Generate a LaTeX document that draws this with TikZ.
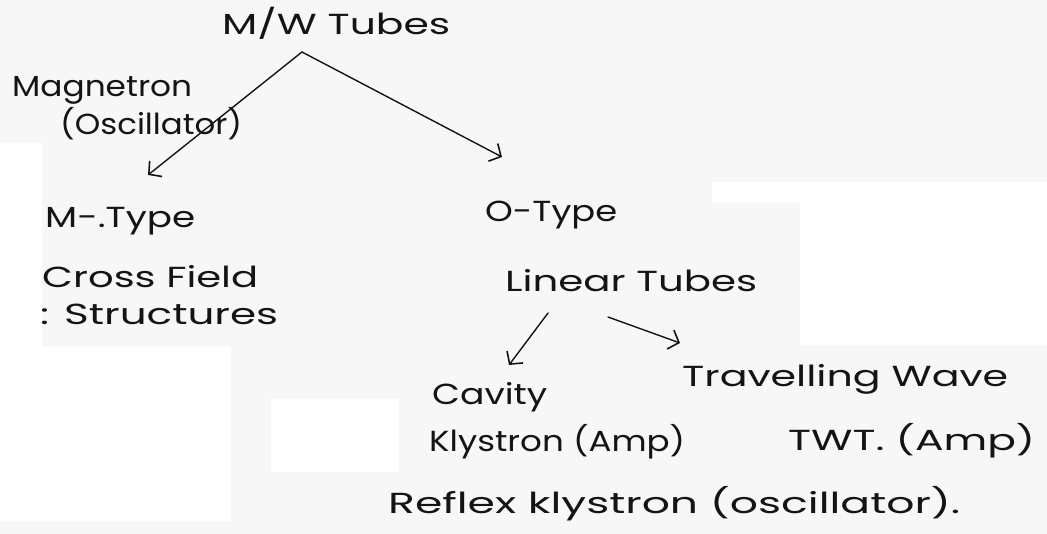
\documentclass[tikz,border=0pt]{standalone}
\usepackage{fontspec}
\setmainfont{Poppins}
\usetikzlibrary{arrows.meta,calc}
\definecolor{paper}{gray}{0.97}
\definecolor{ink}{gray}{0.08}
% set a label to a given width, keeping its natural height
\newcommand{\hw}[2]{\resizebox{#1pt}{\height}{#2}}

\begin{document}
\begin{tikzpicture}[x=1pt,y=-1pt,
  lbl/.style={anchor=base west,inner sep=0pt,text=ink,font=\fontsize{29}{34}\selectfont},
  arr/.style={draw=ink,line width=1.4pt,line cap=round,
    -{Straight Barb[length=9pt,width=20pt,line width=1.6pt]}}]
% paper and the lighter patches of the sheet
\fill[paper] (0,0) rectangle (1047,534);
\fill[white] (0,143) rectangle (42,347);
\fill[white] (0,347) rectangle (231,521);
\fill[white] (271,399) rectangle (399,472);
\fill[white] (712,182) rectangle (1047,203);
\fill[white] (800,203) rectangle (1047,345);
\useasboundingbox (0,0) rectangle (1047,534);

% labels
\node[lbl] (top)    at (222,35)  {\hw{228}{M/W Tubes}};
\node[lbl] (mag)    at (12,97)   {\hw{180}{Magnetron}};
\node[lbl] (osc)    at (60,135)  {\hw{182}{(Oscillator)}};
\node[lbl] (mtype)  at (45,228)  {\hw{150}{M-.Type}};
\node[lbl] (cross)  at (42,288)  {\hw{216}{Cross Field}};
\node[lbl] (struct) at (40,325)  {\hw{238}{: Structures}};
\node[lbl] (otype)  at (485,222) {\hw{132}{O-Type}};
\node[lbl] (linear) at (505,292) {\hw{252}{Linear Tubes}};
\node[lbl] (cavity) at (432,405) {\hw{115}{Cavity}};
\node[lbl] (travel) at (682,387) {\hw{326}{Travelling Wave}};
\node[lbl] (klys)   at (429,452) {\hw{256}{Klystron (Amp)}};
\node[lbl] (twt)    at (788,450) {\hw{247}{TWT. (Amp)}};
\node[lbl] (reflex) at (388,513) {\hw{572}{Reflex klystron (oscillator).}};

% branches
\draw[arr] ($(top.base west)+(80,17)$) -- ($(mtype.base west)+(103,-53)$);
\draw[arr] ($(top.base west)+(80,17)$) -- ($(otype.base west)+(17,-65)$);
\draw[arr] ($(linear.base west)+(43,21)$) -- ($(cavity.base west)+(77,-40)$);
\draw[arr] ($(linear.base west)+(103,25)$) -- ($(travel.base west)+(-2,-44)$);
\end{tikzpicture}
\end{document}
